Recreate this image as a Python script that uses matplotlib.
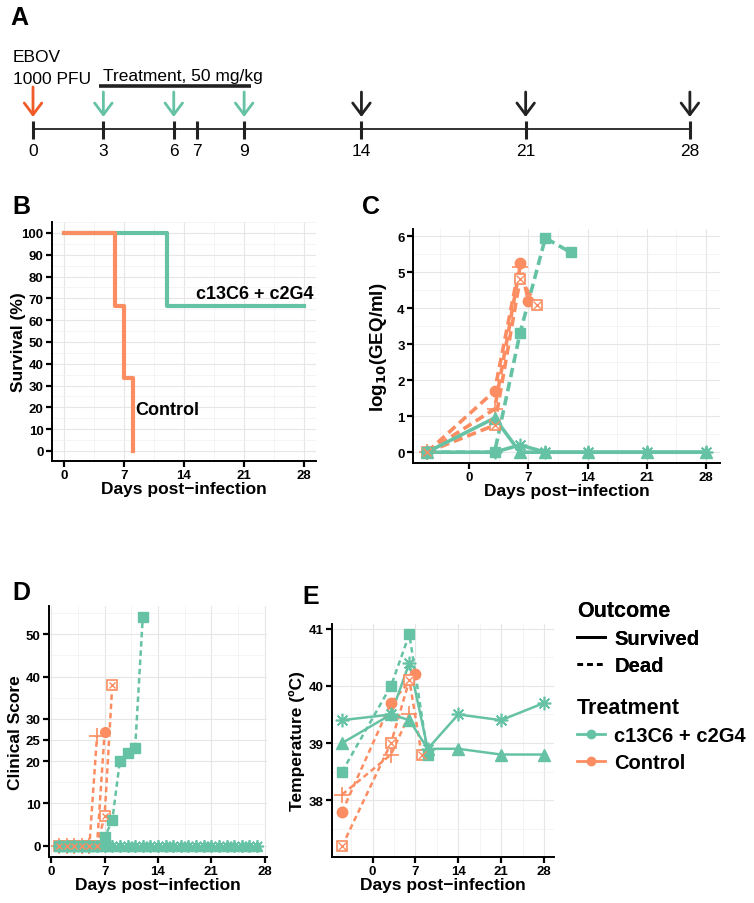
import matplotlib.pyplot as plt
from matplotlib.lines import Line2D
from matplotlib.ticker import MultipleLocator

plt.rcParams['font.family'] = ['Liberation Sans', 'DejaVu Sans']
plt.rcParams['font.weight'] = 'bold'
plt.rcParams['axes.labelweight'] = 'bold'
plt.rcParams['mathtext.default'] = 'bf'

W, H = 754, 904
TEAL = '#66C2A5'
ORANGE = '#FC8D62'

# ---- Panel A: study timeline
timeline_days = [0, 3, 6, 7, 9, 14, 21, 28]
infection_days = [0]
treatment_days = [3, 6, 9]
sampling_days = [14, 21, 28]
treatment_span = [2.8, 9.3]

# ---- Panel B: survival
surv_trt_days = [0, 12, 28]
surv_trt = [100, 66.7, 66.7]
surv_ctl_days = [0, 6, 7, 8]
surv_ctl = [100, 66.7, 33.3, 0]

# animals: treatment group, outcome, marker shape
animals = ['sq', 'tri', 'ast', 'circ', 'plus', 'bx']
animal_group = ['trt', 'trt', 'trt', 'ctl', 'ctl', 'ctl']
animal_outcome = ['dead', 'surv', 'surv', 'dead', 'dead', 'dead']

# ---- Panel C: viremia, log10(GEQ/ml)
c_days = {
    'sq': [-5, 3, 6, 9, 12],
    'tri': [-5, 3, 6, 9, 14, 21, 28],
    'ast': [-5, 3, 6, 9, 14, 21, 28],
    'circ': [-5, 3, 6, 7],
    'plus': [-5, 3, 6],
    'bx': [-5, 3, 6, 8],
}
c_vals = {
    'sq': [0, 0, 3.3, 5.95, 5.55],
    'tri': [0, 0.95, 0, 0, 0, 0, 0],
    'ast': [0, 0, 0.2, 0, 0, 0, 0],
    'circ': [0, 1.7, 5.25, 4.2],
    'plus': [0, 1.2, 5.15],
    'bx': [0, 0.75, 4.8, 4.1],
}

# ---- Panel D: clinical score (daily)
d_days = {
    'sq': list(range(1, 13)),
    'tri': list(range(1, 28)),
    'ast': list(range(1, 28)),
    'circ': list(range(1, 8)),
    'plus': list(range(1, 7)),
    'bx': list(range(1, 9)),
}
d_vals = {
    'sq': [0, 0, 0, 0, 0, 0, 2, 6, 20, 22, 23, 54],
    'tri': [0, 0, 0, 0, 0, 0, 0, 0, 0, 0, 0, 0, 0, 0, 0, 0, 0, 0, 0, 0, 0, 0, 0, 0, 0, 0, 0],
    'ast': [0, 0, 0, 0, 0, 0, 0, 0, 0, 0, 0, 0, 0, 0, 0, 0, 0, 0, 0, 0, 0, 0, 0, 0, 0, 0, 0],
    'circ': [0, 0, 0, 0, 0, 0, 27],
    'plus': [0, 0, 0, 0, 0, 26],
    'bx': [0, 0, 0, 0, 0, 0, 7, 38],
}

# ---- Panel E: temperature (C)
e_days = {
    'sq': [-5, 3, 6, 9],
    'tri': [-5, 3, 6, 9, 14, 21, 28],
    'ast': [-5, 3, 6, 9, 14, 21, 28],
    'circ': [-5, 3, 7],
    'plus': [-5, 3, 6],
    'bx': [-5, 3, 6, 8],
}
e_vals = {
    'sq': [38.5, 40.0, 40.9, 38.8],
    'tri': [39.0, 39.5, 39.4, 38.9, 38.9, 38.8, 38.8],
    'ast': [39.4, 39.5, 40.4, 38.9, 39.5, 39.4, 39.7],
    'circ': [37.8, 39.7, 40.2],
    'plus': [38.1, 38.8, 39.5],
    'bx': [37.2, 39.0, 40.1, 38.8],
}

fig = plt.figure(figsize=(W / 100, H / 100), dpi=100)


def px_axes(left, top, right, bottom):
    return fig.add_axes([left / W, 1 - bottom / H, (right - left) / W, (bottom - top) / H])


def style_axes(ax, xminor, yminor):
    for s in ['top', 'right']:
        ax.spines[s].set_visible(False)
    for s in ['left', 'bottom']:
        ax.spines[s].set_linewidth(1.4)
    ax.xaxis.set_minor_locator(MultipleLocator(xminor))
    ax.yaxis.set_minor_locator(MultipleLocator(yminor))
    ax.grid(True, which='major', color='#E6E6E6', lw=0.8)
    ax.grid(True, which='minor', color='#F0F0F0', lw=0.5)
    ax.set_axisbelow(True)
    ax.tick_params(which='major', length=4, width=1.6, labelsize=9.5, pad=2)
    ax.tick_params(which='minor', length=0)
    for lab in ax.get_xticklabels() + ax.get_yticklabels():
        lab.set_fontweight('bold')
    ax.set_xlabel('Days post\u2212infection', fontsize=12.5, labelpad=0)


def draw_animal(ax, a, days, vals, lw, dash, ms):
    i = animals.index(a)
    col = TEAL if animal_group[i] == 'trt' else ORANGE
    ls = '-' if animal_outcome[i] == 'surv' else (0, dash)
    ax.plot(days, vals, color=col, lw=lw, ls=ls, zorder=3)
    if a == 'sq':
        ax.plot(days, vals, ls='none', marker='s', ms=ms, color=col, zorder=4)
    elif a == 'tri':
        ax.plot(days, vals, ls='none', marker='^', ms=ms * 1.1, color=col, zorder=4)
    elif a == 'ast':
        ax.plot(days, vals, ls='none', marker=(8, 2, 0), ms=ms * 1.3, mew=1.2, color=col, zorder=4)
    elif a == 'circ':
        ax.plot(days, vals, ls='none', marker='o', ms=ms, color=col, zorder=4)
    elif a == 'plus':
        ax.plot(days, vals, ls='none', marker='+', ms=ms * 1.6, mew=1.2, color=col, zorder=4)
    elif a == 'bx':
        ax.plot(days, vals, ls='none', marker='s', ms=ms, mfc='white', mec=col, mew=1.2, zorder=4)
        ax.plot(days, vals, ls='none', marker='x', ms=ms * 0.7, mew=1.0, color=col, zorder=5)


# ---------------- Panel A
axA = fig.add_axes([0, 1 - 170 / H, 1, 170 / H])
px_per_day = 23.46
axA.set_xlim(-33 / px_per_day, (W - 33) / px_per_day)
axA.set_ylim(170, 0)
axA.axis('off')
axA.hlines(130, timeline_days[0], timeline_days[-1], color='#222222', lw=1.3)
axA.vlines(timeline_days, 122, 140, color='#222222', lw=2.2)
for d in timeline_days:
    axA.text(d, 151, str(d), ha='center', va='center', fontsize=12.5, fontweight='normal')


def arrows(days, color, top):
    for d in days:
        axA.annotate('', xy=(d, 118), xytext=(d, top),
                     arrowprops=dict(arrowstyle='->,head_length=0.6,head_width=0.45', color=color, lw=2,
                                     mutation_scale=14, shrinkA=0, shrinkB=0))


arrows(infection_days, '#F05A28', 88)
arrows(treatment_days, TEAL, 93)
arrows(sampling_days, '#222222', 93)
axA.hlines(87, treatment_span[0], treatment_span[1], color='#222222', lw=2.6)
axA.text(treatment_span[0] + 0.2, 81, 'Treatment, 50 mg/kg', ha='left', va='baseline',
         fontsize=12.5, fontweight='normal')
axA.text(-20 / px_per_day, 58, 'EBOV', ha='left', va='center', fontsize=12.5, fontweight='normal')
axA.text(-20 / px_per_day, 79, '1000 PFU', ha='left', va='center', fontsize=12.5, fontweight='normal')
axA.text(-23 / px_per_day, 18, 'A', ha='left', va='center', fontsize=18, fontweight='bold')

# ---------------- Panel B
axB = px_axes(52, 223, 316, 462)
axB.step(surv_trt_days, surv_trt, where='post', color=TEAL, lw=3)
axB.step(surv_ctl_days, surv_ctl, where='post', color=ORANGE, lw=3)
axB.set_xlim(-1.4, 29.4)
axB.set_ylim(-4.6, 105)
axB.set_xticks([0, 7, 14, 21, 28])
axB.set_yticks(range(0, 101, 10))
style_axes(axB, 3.5, 5)
axB.set_ylabel('Survival (%)', fontsize=12.5, labelpad=-3)
axB.text(22.3, 72, 'c13C6 + c2G4', ha='center', va='center', fontsize=13)
axB.text(12.1, 19, 'Control', ha='center', va='center', fontsize=13)

# ---------------- Panel C
axC = px_axes(413, 230, 720, 464)
for a in animals[3:] + animals[:3]:
    draw_animal(axC, a, c_days[a], c_vals[a], 2.6, (2.6, 1.4), 7.5)
axC.set_xlim(-6.65, 29.65)
axC.set_ylim(-0.3, 6.2)
axC.set_xticks([0, 7, 14, 21, 28])
axC.set_yticks(range(0, 7))
style_axes(axC, 3.5, 0.5)
axC.set_ylabel(r'log$_{10}$(GEQ/ml)', fontsize=13.5, labelpad=6)

# ---------------- Panel D
axD = px_axes(49, 607, 267, 858)
for a in animals[3:] + animals[:3]:
    draw_animal(axD, a, d_days[a], d_vals[a], 1.8, (2.2, 1.5), 7)
axD.set_xlim(-0.3, 28.3)
axD.set_ylim(-2.7, 56.7)
axD.set_xticks([0, 7, 14, 21, 28])
axD.set_yticks([0, 10, 20, 25, 30, 40, 50])
style_axes(axD, 3.5, 5)
axD.set_ylabel('Clinical Score', fontsize=12.5, labelpad=2)

# ---------------- Panel E
axE = px_axes(332, 625, 554, 858)
for a in animals[3:] + animals[:3]:
    draw_animal(axE, a, e_days[a], e_vals[a], 1.8, (2.2, 1.5), 7.5)
axE.set_xlim(-6.65, 29.65)
axE.set_ylim(37.01, 41.08)
axE.set_xticks([0, 7, 14, 21, 28])
axE.set_yticks([38, 39, 40, 41])
style_axes(axE, 3.5, 0.5)
axE.set_ylabel('Temperature (\u00baC)', fontsize=12.5, labelpad=3)

# panel letters
for lab, x, y in [('B', 12, 207), ('C', 362, 207), ('D', 12, 593), ('E', 302, 597)]:
    fig.text(x / W, 1 - y / H, lab, ha='left', va='center', fontsize=18, fontweight='bold')

# ---------------- Legends
h_out = [Line2D([], [], color='black', lw=2, ls='-'),
         Line2D([], [], color='black', lw=2, ls=(0, (2, 1.5)))]
h_trt = [Line2D([], [], color=TEAL, lw=2, marker='o', ms=6),
         Line2D([], [], color=ORANGE, lw=2, marker='o', ms=6)]
legend_kw = dict(loc='upper left', frameon=False, fontsize=14.5, title_fontsize=15.5,
                 handlelength=1.4, handletextpad=0.45, labelspacing=0.4,
                 alignment='left', borderpad=0, borderaxespad=0)
leg1 = fig.legend(h_out, ['Survived', 'Dead'], title='Outcome',
                  bbox_to_anchor=(577 / W, 1 - 601 / H), **legend_kw)
leg2 = fig.legend(h_trt, ['c13C6 + c2G4', 'Control'], title='Treatment',
                  bbox_to_anchor=(577 / W, 1 - 698 / H), **legend_kw)
for leg in (leg1, leg2):
    leg.get_title().set_fontweight('bold')
    for t in leg.get_texts():
        t.set_fontweight('bold')
fig.add_artist(leg1)

fig.savefig('out.png', dpi=100)
